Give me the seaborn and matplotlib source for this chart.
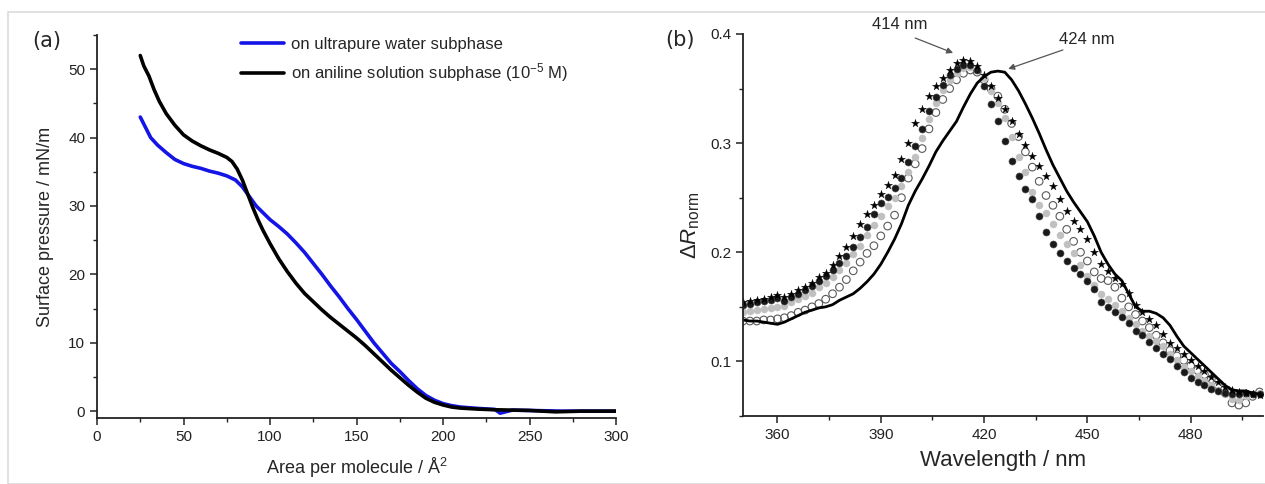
import matplotlib
matplotlib.use('Agg')
import matplotlib.pyplot as plt
import matplotlib.patches as mpatches
from matplotlib.ticker import MultipleLocator
import seaborn as sns
import pandas as pd

# ---- panel (a): surface pressure isotherms ----
area_water = [25, 28, 31, 35, 40, 45, 50, 55, 60, 65, 70, 75, 80, 84, 88, 92, 96, 100, 105, 110,
              115, 120, 125, 130, 135, 140, 145, 150, 155, 160, 165, 170, 175, 180, 185, 190, 195,
              200, 205, 210, 220, 230, 233, 240, 250, 260, 270, 280, 290, 300]
pressure_water = [43.0, 41.5, 40.0, 38.9, 37.8, 36.8, 36.2, 35.8, 35.5, 35.1, 34.8, 34.4, 33.8, 32.8,
                  31.4, 30.0, 29.0, 28.0, 27.0, 25.9, 24.6, 23.2, 21.6, 20.0, 18.3, 16.7, 15.0, 13.4,
                  11.7, 10.0, 8.5, 7.0, 5.8, 4.5, 3.3, 2.3, 1.6, 1.1, 0.8, 0.6, 0.4, 0.25, -0.3,
                  0.15, 0.1, 0.05, 0.0, 0.0, 0.0, 0.0]

area_aniline = [25, 27, 30, 33, 36, 40, 45, 50, 55, 60, 65, 70, 75, 78, 81, 84, 87, 90, 93, 96,
                100, 105, 110, 115, 120, 125, 130, 135, 140, 145, 150, 155, 160, 165, 170, 175,
                180, 185, 190, 195, 200, 205, 210, 220, 230, 240, 250, 265, 280, 300]
pressure_aniline = [52.0, 50.5, 49.0, 47.0, 45.3, 43.5, 41.8, 40.4, 39.5, 38.8, 38.2, 37.7, 37.1, 36.5,
                    35.4, 33.8, 31.8, 29.8, 28.0, 26.4, 24.5, 22.3, 20.4, 18.7, 17.2, 16.0, 14.8,
                    13.7, 12.7, 11.7, 10.7, 9.6, 8.4, 7.2, 6.0, 4.9, 3.8, 2.8, 1.9, 1.3, 0.9, 0.6,
                    0.45, 0.3, 0.2, 0.15, 0.1, -0.1, 0.0, 0.0]

# ---- panel (b): normalized reflectance spectra ----
wavelength = [350, 352, 354, 356, 358, 360, 362, 364, 366, 368, 370, 372, 374, 376, 378, 380, 382,
              384, 386, 388, 390, 392, 394, 396, 398, 400, 402, 404, 406, 408, 410, 412, 414, 416,
              418, 420, 422, 424, 426, 428, 430, 432, 434, 436, 438, 440, 442, 444, 446, 448, 450,
              452, 454, 456, 458, 460, 462, 464, 466, 468, 470, 472, 474, 476, 478, 480, 482, 484,
              486, 488, 490, 492, 494, 496, 498, 500]

dr_line = [0.138, 0.137, 0.137, 0.136, 0.135, 0.134, 0.136, 0.139, 0.142, 0.145, 0.147, 0.149,
           0.150, 0.152, 0.156, 0.159, 0.162, 0.167, 0.173, 0.180, 0.189, 0.200, 0.212, 0.226,
           0.243, 0.256, 0.267, 0.279, 0.292, 0.302, 0.311, 0.320, 0.333, 0.345, 0.355, 0.361,
           0.365, 0.366, 0.365, 0.358, 0.348, 0.336, 0.323, 0.309, 0.294, 0.280, 0.268, 0.256,
           0.246, 0.237, 0.228, 0.215, 0.200, 0.189, 0.180, 0.174, 0.162, 0.150, 0.146, 0.146,
           0.144, 0.140, 0.133, 0.123, 0.114, 0.108, 0.102, 0.096, 0.090, 0.084, 0.078, 0.074,
           0.073, 0.073, 0.071, 0.070]

dr_star = [0.154, 0.155, 0.156, 0.157, 0.159, 0.161, 0.159, 0.162, 0.165, 0.168, 0.172, 0.177,
           0.181, 0.188, 0.197, 0.205, 0.215, 0.226, 0.235, 0.243, 0.253, 0.262, 0.271, 0.285,
           0.300, 0.318, 0.331, 0.343, 0.352, 0.360, 0.367, 0.373, 0.376, 0.375, 0.371, 0.362,
           0.352, 0.341, 0.331, 0.320, 0.308, 0.298, 0.288, 0.279, 0.270, 0.261, 0.249, 0.238,
           0.229, 0.221, 0.212, 0.200, 0.189, 0.183, 0.176, 0.171, 0.163, 0.152, 0.145, 0.139,
           0.133, 0.125, 0.117, 0.112, 0.107, 0.101, 0.096, 0.091, 0.086, 0.081, 0.077, 0.074,
           0.072, 0.071, 0.070, 0.069]

dr_black = [0.152, 0.153, 0.154, 0.155, 0.156, 0.158, 0.155, 0.159, 0.162, 0.165, 0.169, 0.174,
            0.178, 0.184, 0.190, 0.197, 0.205, 0.214, 0.223, 0.235, 0.245, 0.251, 0.259, 0.268,
            0.283, 0.297, 0.313, 0.329, 0.342, 0.353, 0.362, 0.368, 0.372, 0.372, 0.367, 0.352,
            0.336, 0.320, 0.302, 0.284, 0.270, 0.258, 0.249, 0.233, 0.219, 0.208, 0.199, 0.192,
            0.186, 0.180, 0.174, 0.166, 0.154, 0.150, 0.145, 0.141, 0.135, 0.128, 0.124, 0.118,
            0.112, 0.107, 0.102, 0.096, 0.090, 0.085, 0.081, 0.078, 0.075, 0.073, 0.071, 0.070,
            0.070, 0.071, 0.070, 0.070]

dr_gray = [0.145, 0.146, 0.147, 0.148, 0.149, 0.150, 0.151, 0.154, 0.157, 0.160, 0.163, 0.168,
           0.172, 0.177, 0.184, 0.190, 0.198, 0.206, 0.216, 0.225, 0.233, 0.242, 0.250, 0.261,
           0.274, 0.287, 0.305, 0.322, 0.337, 0.349, 0.358, 0.364, 0.369, 0.370, 0.367, 0.360,
           0.348, 0.337, 0.323, 0.306, 0.287, 0.274, 0.255, 0.243, 0.236, 0.226, 0.216, 0.208,
           0.199, 0.188, 0.178, 0.170, 0.162, 0.157, 0.152, 0.146, 0.140, 0.134, 0.128, 0.123,
           0.119, 0.114, 0.107, 0.101, 0.095, 0.091, 0.087, 0.082, 0.078, 0.074, 0.070, 0.066,
           0.065, 0.068, 0.070, 0.071]

dr_open = [0.137, 0.137, 0.137, 0.138, 0.138, 0.139, 0.140, 0.142, 0.145, 0.147, 0.150, 0.153,
           0.157, 0.162, 0.168, 0.175, 0.183, 0.191, 0.199, 0.206, 0.215, 0.224, 0.234, 0.250,
           0.268, 0.281, 0.295, 0.313, 0.328, 0.340, 0.350, 0.358, 0.364, 0.367, 0.365, 0.358,
           0.350, 0.343, 0.331, 0.318, 0.306, 0.292, 0.278, 0.265, 0.252, 0.243, 0.233, 0.221,
           0.210, 0.200, 0.192, 0.182, 0.176, 0.174, 0.168, 0.158, 0.150, 0.143, 0.137, 0.131,
           0.124, 0.117, 0.110, 0.105, 0.101, 0.096, 0.092, 0.088, 0.084, 0.078, 0.071, 0.062,
           0.060, 0.062, 0.068, 0.072]

legend_labels = ['on ultrapure water subphase', 'on aniline solution subphase (10$^{-5}$ M)']

sns.set_style('ticks')
plt.rcParams['font.family'] = ['Liberation Sans', 'DejaVu Sans']
plt.rcParams['mathtext.fontset'] = 'custom'
plt.rcParams['mathtext.rm'] = 'Liberation Sans'
plt.rcParams['mathtext.it'] = 'Liberation Sans:italic'

fig = plt.figure(figsize=(12.65, 4.84), dpi=100)
ax1 = fig.add_axes([0.0767, 0.1364, 0.4103, 0.7913])
ax2 = fig.add_axes([0.5874, 0.1405, 0.4110, 0.7893])

# light frame around the figure
fig.patches.append(mpatches.Rectangle((8 / 1265, 0), 1.0, 1 - 12 / 484, transform=fig.transFigure,
                                      fill=False, edgecolor='#dcdcdc', linewidth=1.2))

df_w = pd.DataFrame({'area': area_water, 'pressure': pressure_water})
df_a = pd.DataFrame({'area': area_aniline, 'pressure': pressure_aniline})
sns.lineplot(data=df_w, x='area', y='pressure', ax=ax1, color='#1414e6', linewidth=2.6,
             sort=False, estimator=None, label=legend_labels[0])
sns.lineplot(data=df_a, x='area', y='pressure', ax=ax1, color='black', linewidth=2.6,
             sort=False, estimator=None, label=legend_labels[1])

ax1.set_xlim(0, 300)
ax1.set_ylim(-1, 55)
ax1.xaxis.set_major_locator(MultipleLocator(50))
ax1.xaxis.set_minor_locator(MultipleLocator(25))
ax1.yaxis.set_major_locator(MultipleLocator(10))
ax1.yaxis.set_minor_locator(MultipleLocator(5))
ax1.set_xlabel('Area per molecule / Å$^2$', fontsize=13, labelpad=9)
ax1.set_ylabel('Surface pressure / mN/m', fontsize=13, labelpad=10)
ax1.legend(loc='upper left', bbox_to_anchor=(0.2775, 0.995), frameon=False, fontsize=12,
           handlelength=2.6, handletextpad=0.4, labelspacing=0.55, borderpad=0, borderaxespad=0)
ax1.text(-0.125, 0.985, '(a)', transform=ax1.transAxes, fontsize=15, family='DejaVu Sans',
         va='center', ha='left')

# panel (b)
df_b = pd.DataFrame({'wl': wavelength, 'line': dr_line, 'star': dr_star, 'black': dr_black,
                     'gray': dr_gray, 'open': dr_open})
sns.lineplot(data=df_b, x='wl', y='line', ax=ax2, color='black', linewidth=2.0, sort=False,
             estimator=None)
sns.scatterplot(data=df_b, x='wl', y='open', ax=ax2, marker='o', s=30, color='none',
                edgecolor='#5a5a5a', linewidth=0.8)
sns.scatterplot(data=df_b, x='wl', y='gray', ax=ax2, marker='o', s=26, color='#c0c0c0',
                edgecolor='#c0c0c0', linewidth=0.3)
sns.scatterplot(data=df_b, x='wl', y='black', ax=ax2, marker='o', s=26, color='#1a1a1a',
                edgecolor='#555555', linewidth=0.4)
sns.scatterplot(data=df_b, x='wl', y='star', ax=ax2, marker='*', s=38, color='black',
                edgecolor='black', linewidth=0.2)

ax2.set_xlim(350, 501)
ax2.set_ylim(0.05, 0.4)
ax2.xaxis.set_major_locator(MultipleLocator(30))
ax2.xaxis.set_minor_locator(MultipleLocator(15))
ax2.yaxis.set_major_locator(MultipleLocator(0.1))
ax2.yaxis.set_minor_locator(MultipleLocator(0.05))
ax2.set_xlabel('Wavelength / nm', fontsize=16, labelpad=6)
ax2.set_ylabel(r'$\Delta\mathit{R}_{\mathrm{norm}}$', fontsize=16, labelpad=6)
ax2.text(-0.15, 0.985, '(b)', transform=ax2.transAxes, fontsize=15, family='DejaVu Sans',
         va='center', ha='left')

arrow_kw = dict(arrowstyle='-|>', color='#555555', lw=0.9, mutation_scale=9,
                shrinkA=0, shrinkB=0)
ax2.annotate('', xy=(411.0, 0.3826), xytext=(400.0, 0.3963), arrowprops=arrow_kw)
ax2.annotate('', xy=(427.0, 0.368), xytext=(442.9, 0.3854), arrowprops=arrow_kw)
ax2.text(395.6, 0.409, '414 nm', fontsize=12, ha='center', va='center')
ax2.text(449.9, 0.3945, '424 nm', fontsize=12, ha='center', va='center')

for ax in (ax1, ax2):
    sns.despine(ax=ax)
    for sp in ('left', 'bottom'):
        ax.spines[sp].set_linewidth(1.3)
        ax.spines[sp].set_color('#222222')
    ax.tick_params(which='major', direction='out', length=5, width=1.1, labelsize=11,
                   colors='#222222')
    ax.tick_params(which='minor', direction='out', length=3, width=1.0, colors='#222222')

fig.savefig('out.png', dpi=100)
